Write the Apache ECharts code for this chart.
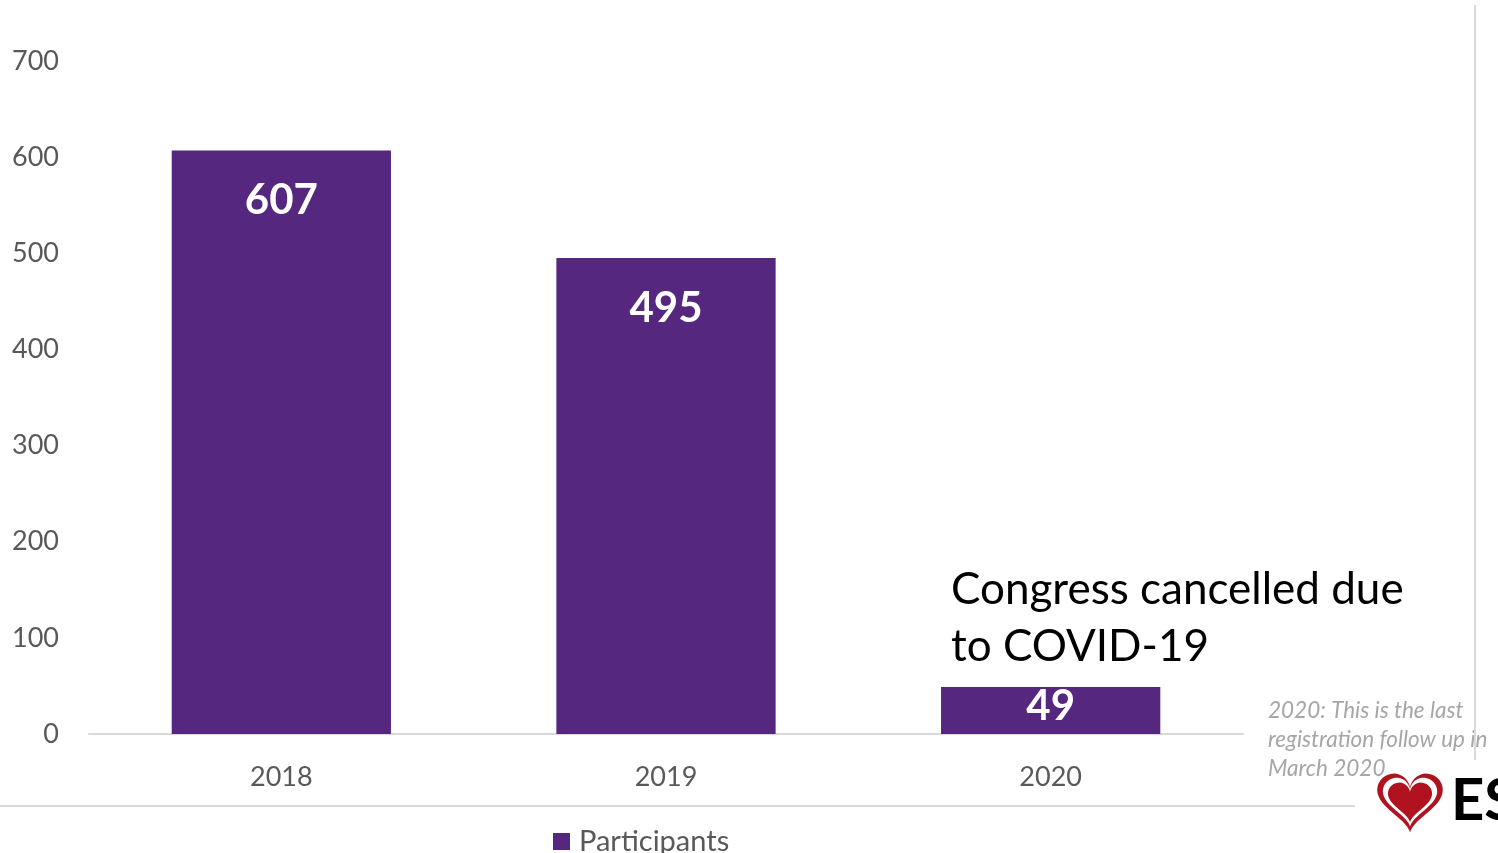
<!DOCTYPE html>
<html>
<head>
<meta charset="utf-8">
<script src="https://cdn.jsdelivr.net/npm/echarts@6/dist/echarts.min.js"></script>
<style>
  html, body { margin: 0; padding: 0; background: #fff; }
  #chart { width: 1498px; height: 853px; }
</style>
</head>
<body>
<div id="chart"></div>
<script>
// data
var years = ['2018', '2019', '2020'];
var participants = [607, 495, 49];
var yTicks = { min: 0, max: 700, step: 100 };
var seriesName = 'Participants';
var noteCovid = 'Congress cancelled due\nto COVID-19';
var noteFollowUp = '2020: This is the last\nregistration follow up in\nMarch 2020';

var purple = '#55277f';
var font = 'Lato, "Open Sans", sans-serif';

var myChart = echarts.init(document.getElementById('chart'));

// last bar is too short for the top label, put it in the middle
var barData = participants.map(function (v, i) {
  if (i === participants.length - 1) {
    return { value: v, label: { position: 'inside', offset: [0, -4] } };
  }
  return v;
});

// heart outline for the logo (decoration only)
function heartPts(cx, cy, s) {
  var pts = [];
  for (var k = 0; k < 72; k++) {
    var t = k / 72 * Math.PI * 2;
    var x = 16 * Math.pow(Math.sin(t), 3);
    var y = 13 * Math.cos(t) - 5 * Math.cos(2 * t) - 2 * Math.cos(3 * t) - Math.cos(4 * t);
    pts.push([cx + x * s, cy - y * s]);
  }
  return pts;
}

myChart.setOption({
  animation: false,
  grid: { left: 89, right: 255, top: 61, bottom: 119, containLabel: false },
  legend: {
    data: [seriesName],
    left: 548,
    top: 822,
    itemWidth: 17,
    itemHeight: 17,
    icon: 'rect',
    textStyle: { color: '#595959', fontSize: 29, fontFamily: font, padding: [0, 0, 0, 4] }
  },
  xAxis: {
    type: 'category',
    data: years,
    axisLine: { lineStyle: { color: '#d9d9d9', width: 2 } },
    axisTick: { show: false },
    axisLabel: { color: '#595959', fontSize: 27, fontFamily: font, margin: 30 }
  },
  yAxis: {
    type: 'value',
    min: yTicks.min,
    max: yTicks.max,
    interval: yTicks.step,
    axisLine: { show: false },
    axisTick: { show: false },
    splitLine: { show: false },
    axisLabel: { color: '#595959', fontSize: 27, fontFamily: font, margin: 30 }
  },
  series: [{
    name: seriesName,
    type: 'bar',
    data: barData,
    barWidth: '57%',
    itemStyle: { color: purple },
    label: {
      show: true,
      position: 'insideTop',
      distance: 29,
      color: '#fff',
      fontWeight: 'bold',
      fontSize: 42,
      fontFamily: font
    }
  }],
  graphic: [
    {
      type: 'text',
      x: 951,
      y: 561,
      style: { text: noteCovid, fill: '#000', font: '44px ' + font, lineHeight: 57 }
    },
    {
      type: 'text',
      x: 1268,
      y: 696,
      style: { text: noteFollowUp, fill: '#a6a6a6', font: 'italic 22.5px ' + font, lineHeight: 29 }
    },
    {
      type: 'line',
      shape: { x1: 0, y1: 806, x2: 1355, y2: 806 },
      style: { stroke: '#d9d9d9', lineWidth: 2 }
    },
    {
      type: 'line',
      shape: { x1: 1475, y1: 5, x2: 1475, y2: 760 },
      style: { stroke: '#d9d9d9', lineWidth: 2 }
    },
    // ESC logo, roughly
    {
      type: 'polygon',
      shape: { points: heartPts(1410, 798, 2.05) },
      style: { fill: '#b0121f' }
    },
    {
      type: 'polygon',
      shape: { points: heartPts(1410, 798, 1.7) },
      style: { fill: '#fff' }
    },
    {
      type: 'polygon',
      shape: { points: heartPts(1410, 799, 1.38) },
      style: { fill: '#b0121f' }
    },
    {
      type: 'text',
      x: 1451,
      y: 772,
      style: { text: 'ESC', fill: '#000', font: 'bold 58px ' + font }
    }
  ]
});
</script>
</body>
</html>
